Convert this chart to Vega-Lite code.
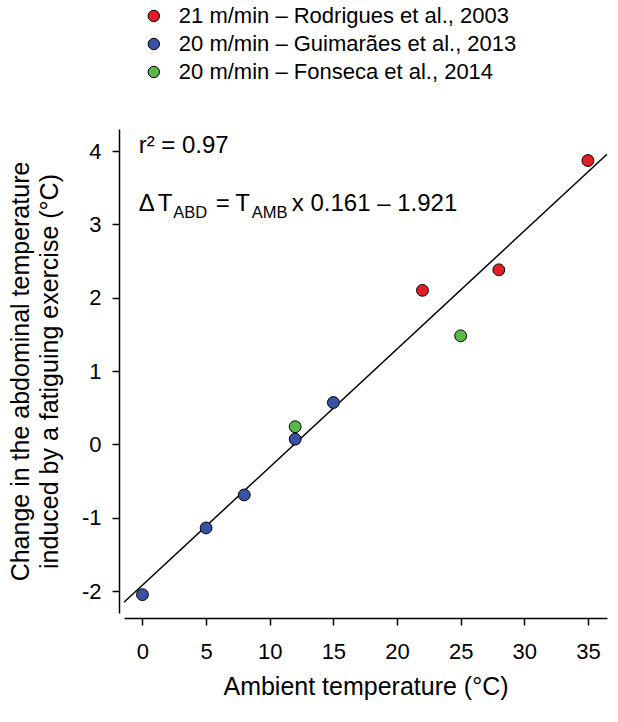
{
  "$schema": "https://vega.github.io/schema/vega-lite/v6.json",
  "width": 483,
  "height": 484,
  "autosize": {"type": "none"},
  "padding": {"left": 124, "top": 129, "right": 11, "bottom": 109},
  "background": "white",
  "config": {
    "view": {"stroke": null},
    "font": "Liberation Sans",
    "axis": {
      "grid": false,
      "domainColor": "black",
      "domainWidth": 1.5,
      "tickColor": "black",
      "tickWidth": 1.5,
      "tickSize": 7,
      "labelColor": "black",
      "labelFont": "Liberation Sans",
      "labelFontSize": 22,
      "titleFont": "Liberation Sans",
      "titleFontSize": 25,
      "titleFontWeight": "normal",
      "titleColor": "black"
    },
    "text": {"font": "Liberation Sans", "color": "black"}
  },
  "datasets": {
    "points": [
      {"temp": 22, "change": 2.1, "study": "21 m/min – Rodrigues et al., 2003"},
      {"temp": 28, "change": 2.38, "study": "21 m/min – Rodrigues et al., 2003"},
      {"temp": 35, "change": 3.87, "study": "21 m/min – Rodrigues et al., 2003"},
      {"temp": 0, "change": -2.05, "study": "20 m/min – Guimarães et al., 2013"},
      {"temp": 5, "change": -1.14, "study": "20 m/min – Guimarães et al., 2013"},
      {"temp": 8, "change": -0.69, "study": "20 m/min – Guimarães et al., 2013"},
      {"temp": 12, "change": 0.07, "study": "20 m/min – Guimarães et al., 2013"},
      {"temp": 15, "change": 0.57, "study": "20 m/min – Guimarães et al., 2013"},
      {"temp": 12, "change": 0.24, "study": "20 m/min – Fonseca et al., 2014"},
      {"temp": 25, "change": 1.48, "study": "20 m/min – Fonseca et al., 2014"}
    ],
    "fit": [
      {"temp": -1.45, "change": -2.154},
      {"temp": 36.5, "change": 3.956}
    ]
  },
  "layer": [
    {
      "data": {"name": "fit"},
      "mark": {"type": "line", "color": "black", "strokeWidth": 1.5},
      "encoding": {
        "x": {
          "field": "temp", "type": "quantitative",
          "scale": {"domain": [-1.45, 36.5], "nice": false, "zero": false},
          "axis": {
            "title": "Ambient temperature (°C)",
            "values": [0, 5, 10, 15, 20, 25, 30, 35],
            "offset": 5,
            "labelPadding": 16,
            "titlePadding": 12
          }
        },
        "y": {
          "field": "change", "type": "quantitative",
          "scale": {"domain": [-2.3, 4.3], "nice": false, "zero": false},
          "axis": {
            "title": ["Change in the abdominal temperature", "induced by a fatiguing exercise (°C)"],
            "values": [-2, -1, 0, 1, 2, 3, 4],
            "labelExpr": "datum.value < 0 ? '-' + abs(datum.value) : '' + datum.value",
            "offset": 5,
            "labelPadding": 11,
            "titlePadding": 19,
            "titleLineHeight": 29
          }
        }
      }
    },
    {
      "data": {"name": "points"},
      "mark": {"type": "circle", "size": 140, "opacity": 1, "stroke": "black", "strokeWidth": 1},
      "encoding": {
        "x": {"field": "temp", "type": "quantitative"},
        "y": {"field": "change", "type": "quantitative"},
        "color": {
          "field": "study", "type": "nominal",
          "scale": {
            "domain": ["21 m/min – Rodrigues et al., 2003", "20 m/min – Guimarães et al., 2013", "20 m/min – Fonseca et al., 2014"],
            "range": ["#e31e26", "#3953a4", "#5ab946"]
          },
          "legend": {
            "title": null,
            "orient": "none",
            "legendX": 18.8,
            "legendY": -124,
            "padding": 0,
            "labelFontSize": 22,
            "labelFont": "Liberation Sans",
            "labelColor": "black",
            "labelLimit": 0,
            "labelOffset": 14,
            "rowPadding": 6,
            "symbolType": "circle",
            "symbolSize": 130,
            "symbolStrokeColor": "black",
            "symbolStrokeWidth": 1,
            "symbolOpacity": 1
          }
        }
      }
    },
    {
      "data": {"values": [{}]},
      "mark": {"type": "text", "text": "r² = 0.97", "fontSize": 24, "align": "left", "baseline": "alphabetic"},
      "encoding": {"x": {"datum": -0.3}, "y": {"datum": 3.977}}
    },
    {
      "data": {"values": [{}]},
      "mark": {"type": "text", "text": "Δ", "fontSize": 24, "align": "left", "baseline": "alphabetic"},
      "encoding": {"x": {"datum": -0.3}, "y": {"datum": 3.182}}
    },
    {
      "data": {"values": [{}]},
      "mark": {"type": "text", "text": "T", "fontSize": 24, "align": "left", "baseline": "alphabetic", "dx": 19},
      "encoding": {"x": {"datum": -0.3}, "y": {"datum": 3.182}}
    },
    {
      "data": {"values": [{}]},
      "mark": {"type": "text", "text": "ABD", "fontSize": 16.5, "align": "left", "baseline": "alphabetic", "dx": 34.5, "dy": 7},
      "encoding": {"x": {"datum": -0.3}, "y": {"datum": 3.182}}
    },
    {
      "data": {"values": [{}]},
      "mark": {"type": "text", "text": "=", "fontSize": 24, "align": "left", "baseline": "alphabetic", "dx": 77},
      "encoding": {"x": {"datum": -0.3}, "y": {"datum": 3.182}}
    },
    {
      "data": {"values": [{}]},
      "mark": {"type": "text", "text": "T", "fontSize": 24, "align": "left", "baseline": "alphabetic", "dx": 96.5},
      "encoding": {"x": {"datum": -0.3}, "y": {"datum": 3.182}}
    },
    {
      "data": {"values": [{}]},
      "mark": {"type": "text", "text": "AMB", "fontSize": 16.5, "align": "left", "baseline": "alphabetic", "dx": 113.2, "dy": 7},
      "encoding": {"x": {"datum": -0.3}, "y": {"datum": 3.182}}
    },
    {
      "data": {"values": [{}]},
      "mark": {"type": "text", "text": "x 0.161 – 1.921", "fontSize": 24, "align": "left", "baseline": "alphabetic", "dx": 153.2},
      "encoding": {"x": {"datum": -0.3}, "y": {"datum": 3.182}}
    }
  ]
}
